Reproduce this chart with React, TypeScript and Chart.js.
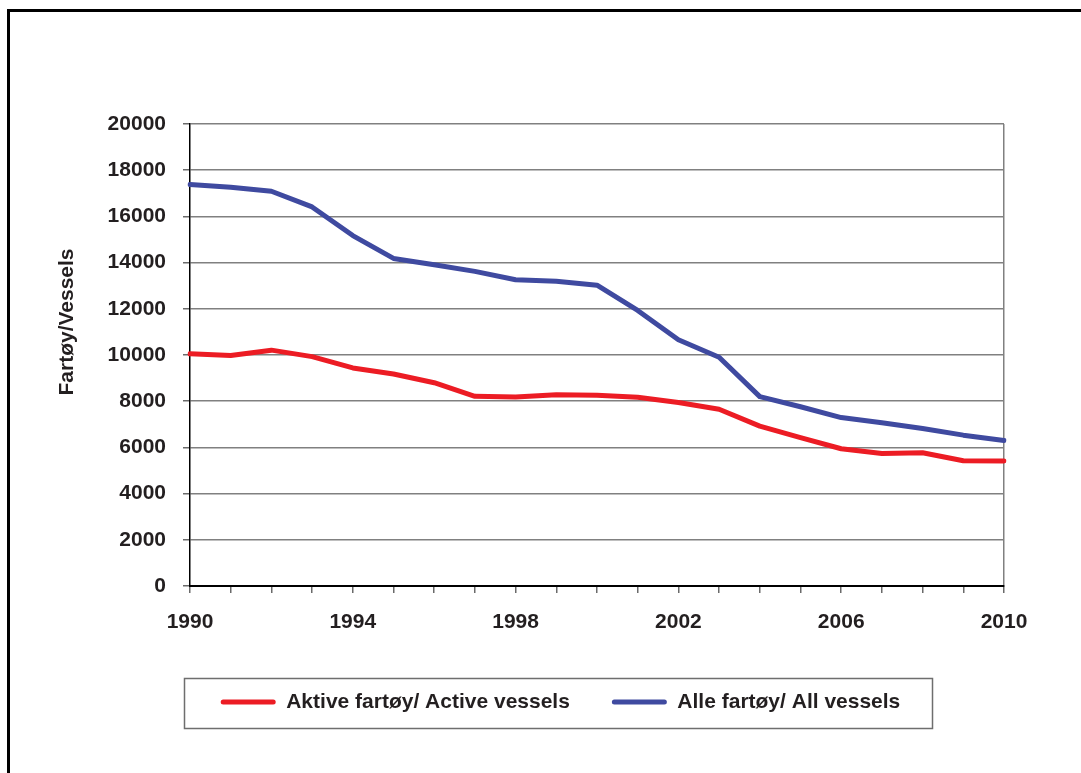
import React, { useEffect, useRef } from "react";
import { Chart, registerables } from "chart.js";

Chart.register(...registerables);

const years = ["1990","1991","1992","1993","1994","1995","1996","1997","1998","1999","2000","2001","2002","2003","2004","2005","2006","2007","2008","2009","2010"];
const activeVessels = [10050, 9980, 10210, 9930, 9440, 9180, 8800, 8210, 8180, 8280, 8260, 8170, 7940, 7650, 6920, 6420, 5940, 5740, 5770, 5420, 5410];
const allVessels = [17380, 17260, 17090, 16410, 15170, 14180, 13910, 13620, 13260, 13190, 13020, 11930, 10660, 9900, 8200, 7760, 7290, 7070, 6820, 6530, 6300];
const seriesLabels = ["Aktive fartøy/ Active vessels", "Alle fartøy/ All vessels"];
const yTitle = "Fartøy/Vessels";
const yMin = 0;
const yMax = 20000;
const yStep = 2000;
const xLabelEvery = 4;

const FONT = '"Liberation Sans", Arial, Helvetica, sans-serif';
const TEXT = "#231f20";
const GRID = "#808080";

const decorPlugin = {
  id: "decor",
  afterLayout(chart: any) {
    const lg = chart.legend;
    if (lg) {
      lg.left = 117;
      lg.right = 1004;
      lg.width = lg.right - lg.left;
    }
  },
  afterDraw(chart: any) {
    const ctx = chart.ctx;
    ctx.save();
    ctx.font = `bold 21px ${FONT}`;
    ctx.fillStyle = TEXT;
    ctx.textAlign = "center";
    ctx.textBaseline = "middle";
    ctx.translate(67, 322);
    ctx.rotate(-Math.PI / 2);
    ctx.fillText(yTitle, 0, 0);
    ctx.restore();

    const lg = chart.legend;
    if (lg && lg.legendHitBoxes && lg.legendHitBoxes.length) {
      const hb = lg.legendHitBoxes;
      const l = Math.min(...hb.map((h: any) => h.left)) - 37;
      const r = Math.max(...hb.map((h: any) => h.left + h.width)) + 31;
      const t = hb[0].top - 14;
      const b = hb[0].top + hb[0].height + 15;
      ctx.save();
      ctx.strokeStyle = "#6e6e6e";
      ctx.lineWidth = 1.5;
      ctx.strokeRect(Math.round(l) + 0.5, Math.round(t) + 0.5, Math.round(r - l), Math.round(b - t));
      ctx.restore();
    }
  },
};

export default function App() {
  const ref = useRef<HTMLCanvasElement | null>(null);

  useEffect(() => {
    if (!ref.current) return;
    const chart = new Chart(ref.current, {
      type: "line",
      data: {
        labels: years,
        datasets: [
          {
            label: seriesLabels[0],
            data: activeVessels,
            borderColor: "#ec1c24",
            backgroundColor: "#ec1c24",
            borderWidth: 5,
            pointRadius: 0,
            tension: 0,
            borderCapStyle: "round",
            borderJoinStyle: "round",
          },
          {
            label: seriesLabels[1],
            data: allVessels,
            borderColor: "#3f4aa0",
            backgroundColor: "#3f4aa0",
            borderWidth: 5,
            pointRadius: 0,
            tension: 0,
            borderCapStyle: "round",
            borderJoinStyle: "round",
          },
        ],
      },
      options: {
        responsive: false,
        animation: false,
        devicePixelRatio: 1,
        layout: { padding: { left: 20, right: 77, top: 124, bottom: 50.5 } },
        plugins: {
          tooltip: { enabled: false },
          legend: {
            position: "bottom",
            labels: {
              boxWidth: 55,
              boxHeight: 5,
              padding: 42,
              color: TEXT,
              font: { family: FONT, size: 21, weight: "bold" },
              generateLabels: (c: any) =>
                c.data.datasets.map((ds: any, i: number) => ({
                  text: ds.label,
                  fillStyle: ds.borderColor,
                  strokeStyle: ds.borderColor,
                  lineWidth: 0,
                  hidden: false,
                  datasetIndex: i,
                  borderRadius: 2.5,
                  fontColor: TEXT,
                })),
            },
          },
        },
        scales: {
          x: {
            type: "category",
            afterFit: (s: any) => {
              s.height = 63.5;
              s.paddingLeft = 0;
              s.paddingRight = 0;
            },
            grid: {
              drawOnChartArea: true,
              color: (c: any) => (c.index === years.length - 1 ? GRID : "rgba(0,0,0,0)"),
              tickColor: "#6a6a6a",
              tickLength: 7,
              lineWidth: 1.5,
            },
            border: { color: "#000", width: 2 },
            ticks: {
              autoSkip: false,
              maxRotation: 0,
              minRotation: 0,
              padding: 17,
              color: TEXT,
              font: { family: FONT, size: 21, weight: "bold" },
              callback: (_v: any, i: number) => (i % xLabelEvery === 0 ? years[i] : ""),
            },
          },
          y: {
            min: yMin,
            max: yMax,
            afterFit: (s: any) => {
              s.width = 170;
            },
            grid: {
              color: GRID,
              tickColor: "#6a6a6a",
              tickLength: 7,
              lineWidth: 1.5,
            },
            border: { color: "#000", width: 1.5 },
            ticks: {
              stepSize: yStep,
              padding: 17,
              color: TEXT,
              font: { family: FONT, size: 21, weight: "bold" },
              callback: (v: any) => String(v),
            },
          },
        },
      },
      plugins: [decorPlugin],
    } as any);
    return () => chart.destroy();
  }, []);

  return (
    <div style={{ position: "absolute", left: 0, top: 0, width: 1081, height: 773, background: "#fff", overflow: "hidden" }}>
      <div
        style={{
          position: "absolute",
          left: 7,
          top: 9,
          width: 1081 - 7,
          height: 773 - 9,
          borderLeft: "3px solid #000",
          borderTop: "3px solid #000",
          boxSizing: "border-box",
        }}
      />
      <canvas ref={ref} width={1081} height={773} style={{ position: "absolute", left: 0, top: 0, width: 1081, height: 773 }} />
    </div>
  );
}
